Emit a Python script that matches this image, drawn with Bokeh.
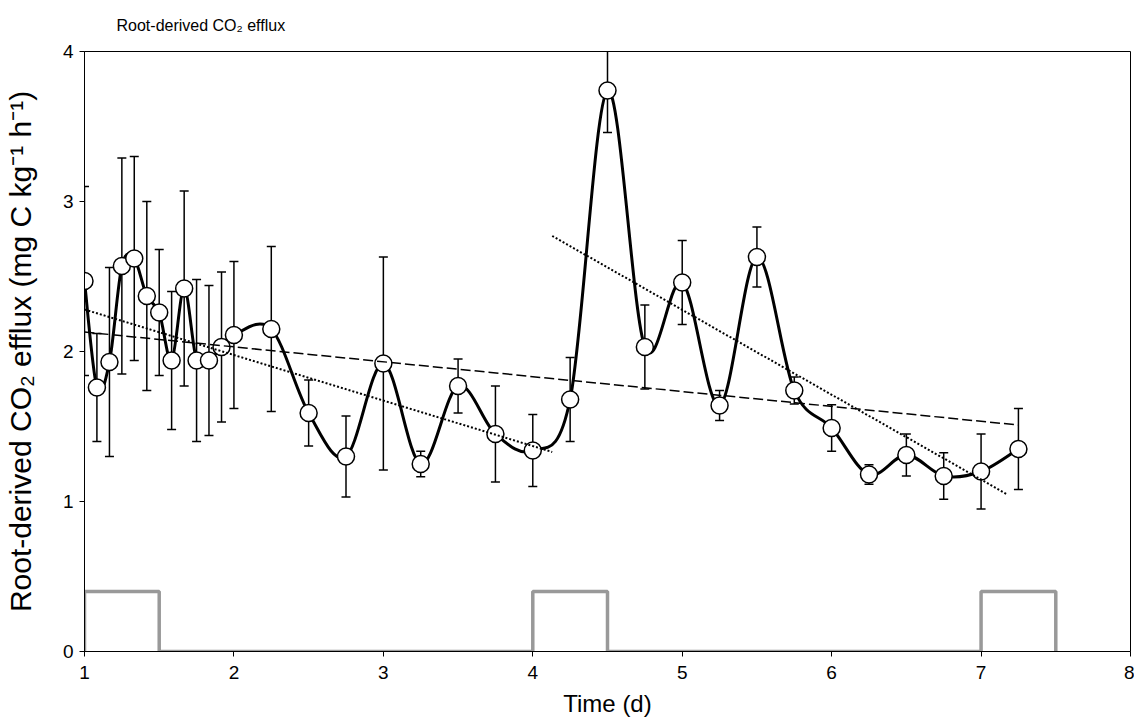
import numpy as np
from bokeh.plotting import figure
from bokeh.models import ColumnDataSource, Whisker, TeeHead, FixedTicker
from bokeh.embed import file_html
from bokeh.resources import INLINE

# ---- data ----
time_d = [1.0, 1.083, 1.167, 1.25, 1.333, 1.417, 1.5, 1.583, 1.667, 1.75, 1.833, 1.917,
          2.0, 2.25, 2.5, 2.75, 3.0, 3.25, 3.5, 3.75, 4.0, 4.25, 4.5, 4.75, 5.0, 5.25,
          5.5, 5.75, 6.0, 6.25, 6.5, 6.75, 7.0, 7.25]
efflux = [2.47, 1.76, 1.93, 2.57, 2.62, 2.37, 2.26, 1.94, 2.42, 1.94, 1.94, 2.03,
          2.11, 2.15, 1.59, 1.30, 1.92, 1.25, 1.77, 1.45, 1.34, 1.68, 3.74, 2.03, 2.46, 1.64,
          2.63, 1.74, 1.49, 1.18, 1.31, 1.17, 1.20, 1.35]
err = [0.63, 0.36, 0.63, 0.72, 0.68, 0.63, 0.42, 0.46, 0.65, 0.54, 0.50, 0.50,
       0.49, 0.55, 0.22, 0.27, 0.71, 0.085, 0.18, 0.32, 0.24, 0.28, 0.28, 0.28, 0.28, 0.10,
       0.20, 0.09, 0.155, 0.065, 0.14, 0.155, 0.25, 0.27]

# trend lines
trend_all_x = [1.0, 7.25]
trend_all_y = [2.13, 1.51]
trend_1_x = [1.0, 4.13]
trend_1_y = [2.28, 1.33]
trend_2_x = [4.13, 7.17]
trend_2_y = [2.77, 1.05]

# light periods (grey step trace)
light_start = [1.0, 4.0, 7.0]
light_end = [1.5, 4.5, 7.5]
light_level = 0.4

x_ticks = [1, 2, 3, 4, 5, 6, 7, 8]
y_ticks = [0, 1, 2, 3, 4]

FONT = "Liberation Sans"

p = figure(width=1134, height=719, x_range=(1, 8), y_range=(0, 4),
           output_backend="svg", toolbar_location=None,
           min_border_left=83, min_border_right=4, min_border_top=51, min_border_bottom=68,
           title="Root-derived CO\u2082 efflux")

p.title.align = "left"
p.title.offset = 32
p.title.standoff = 31
p.title.vertical_align = "top"
p.title.text_font = FONT
p.title.text_font_size = "16px"
p.title.text_font_style = "normal"
p.title.text_color = "black"

p.xgrid.visible = False
p.ygrid.visible = False
p.outline_line_color = "black"
p.outline_line_width = 1
p.outline_line_alpha = 1.0
p.background_fill_color = "white"
p.border_fill_color = "white"

for ax in (p.xaxis[0], p.yaxis[0]):
    ax.axis_line_color = "black"
    ax.axis_line_width = 1
    ax.major_tick_line_color = "black"
    ax.major_tick_in = 0
    ax.major_tick_out = 5
    ax.minor_tick_line_color = None
    ax.major_label_text_font = FONT
    ax.major_label_text_font_size = "19px"
    ax.major_label_text_color = "black"
    ax.axis_label_text_font = FONT
    ax.axis_label_text_font_style = "normal"
    ax.axis_label_text_color = "black"

p.xaxis.ticker = FixedTicker(ticks=x_ticks)
p.yaxis.ticker = FixedTicker(ticks=y_ticks)
p.xaxis.axis_label = "Time (d)"
p.xaxis.axis_label_text_font_size = "24px"
p.xaxis.axis_label_standoff = 8
p.xaxis.major_label_standoff = 9
p.yaxis.axis_label = "Root-derived CO\u2082 efflux (mg C kg\u207b\u00b9 h\u207b\u00b9)"
p.yaxis.axis_label_text_font_size = "30px"
p.yaxis.axis_label_standoff = 23
p.yaxis.major_label_standoff = 6

# grey light/dark trace
sx, sy = [], []
for a, b in zip(light_start, light_end):
    sx += [a, a, b, b]
    sy += [0, light_level, light_level, 0]
p.line(sx, sy, line_color="#999999", line_width=3.5)

# error bars
src = ColumnDataSource(dict(x=time_d, y=efflux,
                            upper=[v + e for v, e in zip(efflux, err)],
                            lower=[v - e for v, e in zip(efflux, err)]))
wh = Whisker(base="x", upper="upper", lower="lower", source=src, dimension="height",
             line_color="black", line_width=1.5,
             upper_head=TeeHead(size=9, line_color="black", line_width=1.5),
             lower_head=TeeHead(size=9, line_color="black", line_width=1.5))
p.add_layout(wh)

# smoothed connecting curve (cubic Bezier through the points)
xa = np.array(time_d); ya = np.array(efflux)
n = len(xa)
x0, y0, x1, y1, cx0, cy0, cx1, cy1 = [], [], [], [], [], [], [], []
for i in range(n - 1):
    im = max(i - 1, 0); ip2 = min(i + 2, n - 1)
    x0.append(xa[i]); y0.append(ya[i]); x1.append(xa[i + 1]); y1.append(ya[i + 1])
    cx0.append(xa[i] + (xa[i + 1] - xa[im]) / 6); cy0.append(ya[i] + (ya[i + 1] - ya[im]) / 6)
    cx1.append(xa[i + 1] - (xa[ip2] - xa[i]) / 6); cy1.append(ya[i + 1] - (ya[ip2] - ya[i]) / 6)
p.bezier(x0=x0, y0=y0, x1=x1, y1=y1, cx0=cx0, cy0=cy0, cx1=cx1, cy1=cy1,
         line_color="black", line_width=3, line_cap="round")

# markers
p.scatter("x", "y", source=src, size=17, fill_color="white", line_color="black", line_width=1.5)

# trend lines
p.line(trend_all_x, trend_all_y, line_color="black", line_width=1.5, line_dash="10 4")
p.line(trend_1_x, trend_1_y, line_color="black", line_width=2, line_dash="2 2")
p.line(trend_2_x, trend_2_y, line_color="black", line_width=2, line_dash="2 2")

open("out.html", "w").write(file_html(p, INLINE))
